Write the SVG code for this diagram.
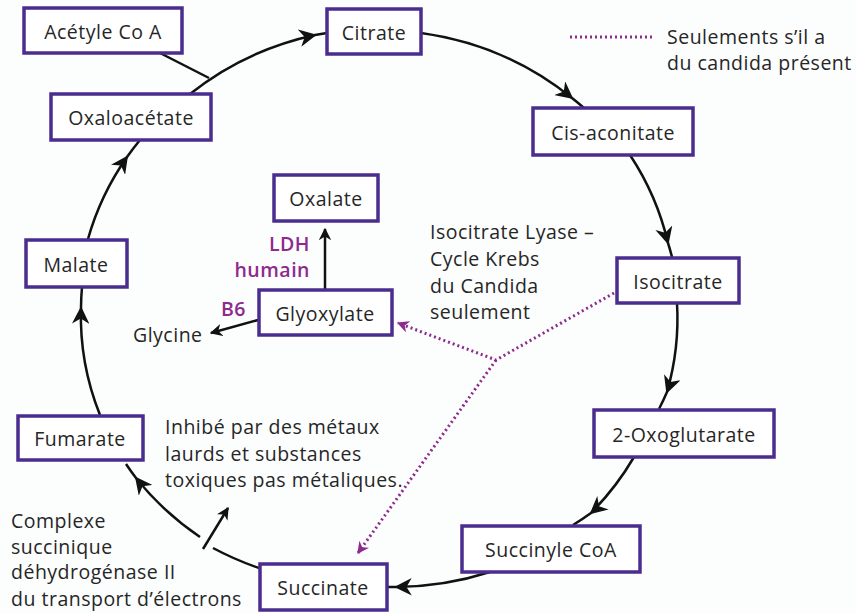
<svg xmlns="http://www.w3.org/2000/svg" width="856" height="613" viewBox="0 0 856 613">
<style>
text{font-family:"Open Sans","Liberation Sans",sans-serif;font-size:19.5px;letter-spacing:0.5px;fill:#262626}
.box rect{fill:#fff;stroke:#4a2d8e;stroke-width:3.5}
.box text{text-anchor:middle;dominant-baseline:central}
.cyc{fill:none;stroke:#111;stroke-width:2.5;marker-mid:url(#ah)}
.ln{fill:none;stroke:#111;stroke-width:2.5}
.dot{fill:none;stroke:#8e2a8e;stroke-width:3;stroke-dasharray:2 3}
.pl{fill:#8e2a8e;font-weight:600}
</style>
<defs>
<marker id="ah" viewBox="0 0 10 10" refX="9" refY="5" markerWidth="7" markerHeight="7" markerUnits="strokeWidth" orient="auto"><path d="M0,0 L10,5 L0,10 L3,5 Z" fill="#111"/></marker>
<marker id="ahe" viewBox="0 0 10 10" refX="9" refY="5" markerWidth="5" markerHeight="5" markerUnits="strokeWidth" orient="auto"><path d="M0,0 L10,5 L0,10 L3,5 Z" fill="#111"/></marker>
<marker id="ahp" viewBox="0 0 10 10" refX="9" refY="5" markerWidth="4" markerHeight="4" markerUnits="strokeWidth" orient="auto"><path d="M0,0 L10,5 L0,10 L3,5 Z" fill="#8e2a8e"/></marker>
</defs>
<rect width="856" height="613" fill="#fcfdfd"/>
<g id="connectors">
<path class="cyc" d="M190,94 A298,280 0 0 1 315,35 A298,280 0 0 1 327,33"/>
<path class="ln" d="M160,53 L209,78"/>
<path class="cyc" d="M421,33 A298,280 0 0 1 572,98 A298,280 0 0 1 584,108"/>
<path class="cyc" d="M630,155 A298,280 0 0 1 668,243 A298,280 0 0 1 672,257"/>
<path class="cyc" d="M677,303 A298,280 0 0 1 667,392 A298,280 0 0 1 659,409"/>
<path class="cyc" d="M634,457 A298,280 0 0 1 591,513 A298,280 0 0 1 573,525"/>
<path class="cyc" d="M490,572 A298,280 0 0 1 396,587 A298,280 0 0 1 387,587"/>
<path class="ln" d="M259,568 A298,280 0 0 1 213,548"/>
<path class="cyc" d="M200,537 A298,280 0 0 1 136,478 A298,280 0 0 1 126,464"/>
<path class="cyc" d="M100,415 A298,280 0 0 1 81,308 A298,280 0 0 1 82,287"/>
<path class="cyc" d="M88,239 A298,280 0 0 1 127,157 A298,280 0 0 1 140,140"/>
<path class="ln" d="M203,549 L228,508" marker-end="url(#ahe)"/>
<path class="ln" d="M325,289 L325,229" marker-end="url(#ahe)"/>
<path class="ln" d="M258,320 L211,333" marker-end="url(#ahe)"/>
<path class="dot" d="M614,293 L496,360 L398,323" marker-end="url(#ahp)"/>
<path class="dot" d="M496,360 L358,553" marker-end="url(#ahp)"/>
<path class="dot" d="M570,37 L652,37"/>
</g>
<g id="acetyle" class="box"><rect x="24" y="8" width="158" height="45"/><text x="103" y="31">Acétyle Co A</text></g>
<g id="citrate" class="box"><rect x="327" y="9" width="94" height="45"/><text x="374" y="32">Citrate</text></g>
<g id="oxaloacetate" class="box"><rect x="51" y="94" width="160" height="46"/><text x="131" y="117">Oxaloacétate</text></g>
<g id="cisaconitate" class="box"><rect x="533" y="108" width="160" height="47"/><text x="613" y="132">Cis-aconitate</text></g>
<g id="malate" class="box"><rect x="26" y="240" width="101" height="47"/><text x="76" y="264">Malate</text></g>
<g id="oxalate" class="box"><rect x="274" y="175" width="104" height="46"/><text x="326" y="198">Oxalate</text></g>
<g id="glyoxylate" class="box"><rect x="259" y="290" width="133" height="45"/><text x="325" y="313">Glyoxylate</text></g>
<g id="isocitrate" class="box"><rect x="617" y="258" width="122" height="45"/><text x="678" y="281">Isocitrate</text></g>
<g id="fumarate" class="box"><rect x="18" y="416" width="125" height="44"/><text x="80" y="438">Fumarate</text></g>
<g id="oxoglutarate" class="box"><rect x="594" y="410" width="180" height="47"/><text x="684" y="434">2-Oxoglutarate</text></g>
<g id="succinylecoa" class="box"><rect x="462" y="526" width="178" height="46"/><text x="551" y="549">Succinyle CoA</text></g>
<g id="succinate" class="box"><rect x="260" y="564" width="127" height="46"/><text x="323" y="587">Succinate</text></g>
<g id="labels">
<text x="667" y="44">Seulements s’il a</text>
<text x="667" y="70">du candida présent</text>
<text x="430" y="239">Isocitrate Lyase –</text>
<text x="430" y="266">Cycle Krebs</text>
<text x="430" y="293">du Candida</text>
<text x="430" y="319">seulement</text>
<text class="pl" x="310" y="251" text-anchor="end">LDH</text>
<text class="pl" x="310" y="277" text-anchor="end">humain</text>
<text class="pl" x="221" y="316">B6</text>
<text x="133" y="342">Glycine</text>
<text x="165" y="434">Inhibé par des métaux</text>
<text x="165" y="461">laurds et substances</text>
<text x="165" y="487">toxiques pas métaliques.</text>
<text x="11" y="528">Complexe</text>
<text x="11" y="554">succinique</text>
<text x="11" y="579">déhydrogénase II</text>
<text x="11" y="606">du transport d’électrons</text>
</g>
</svg>
